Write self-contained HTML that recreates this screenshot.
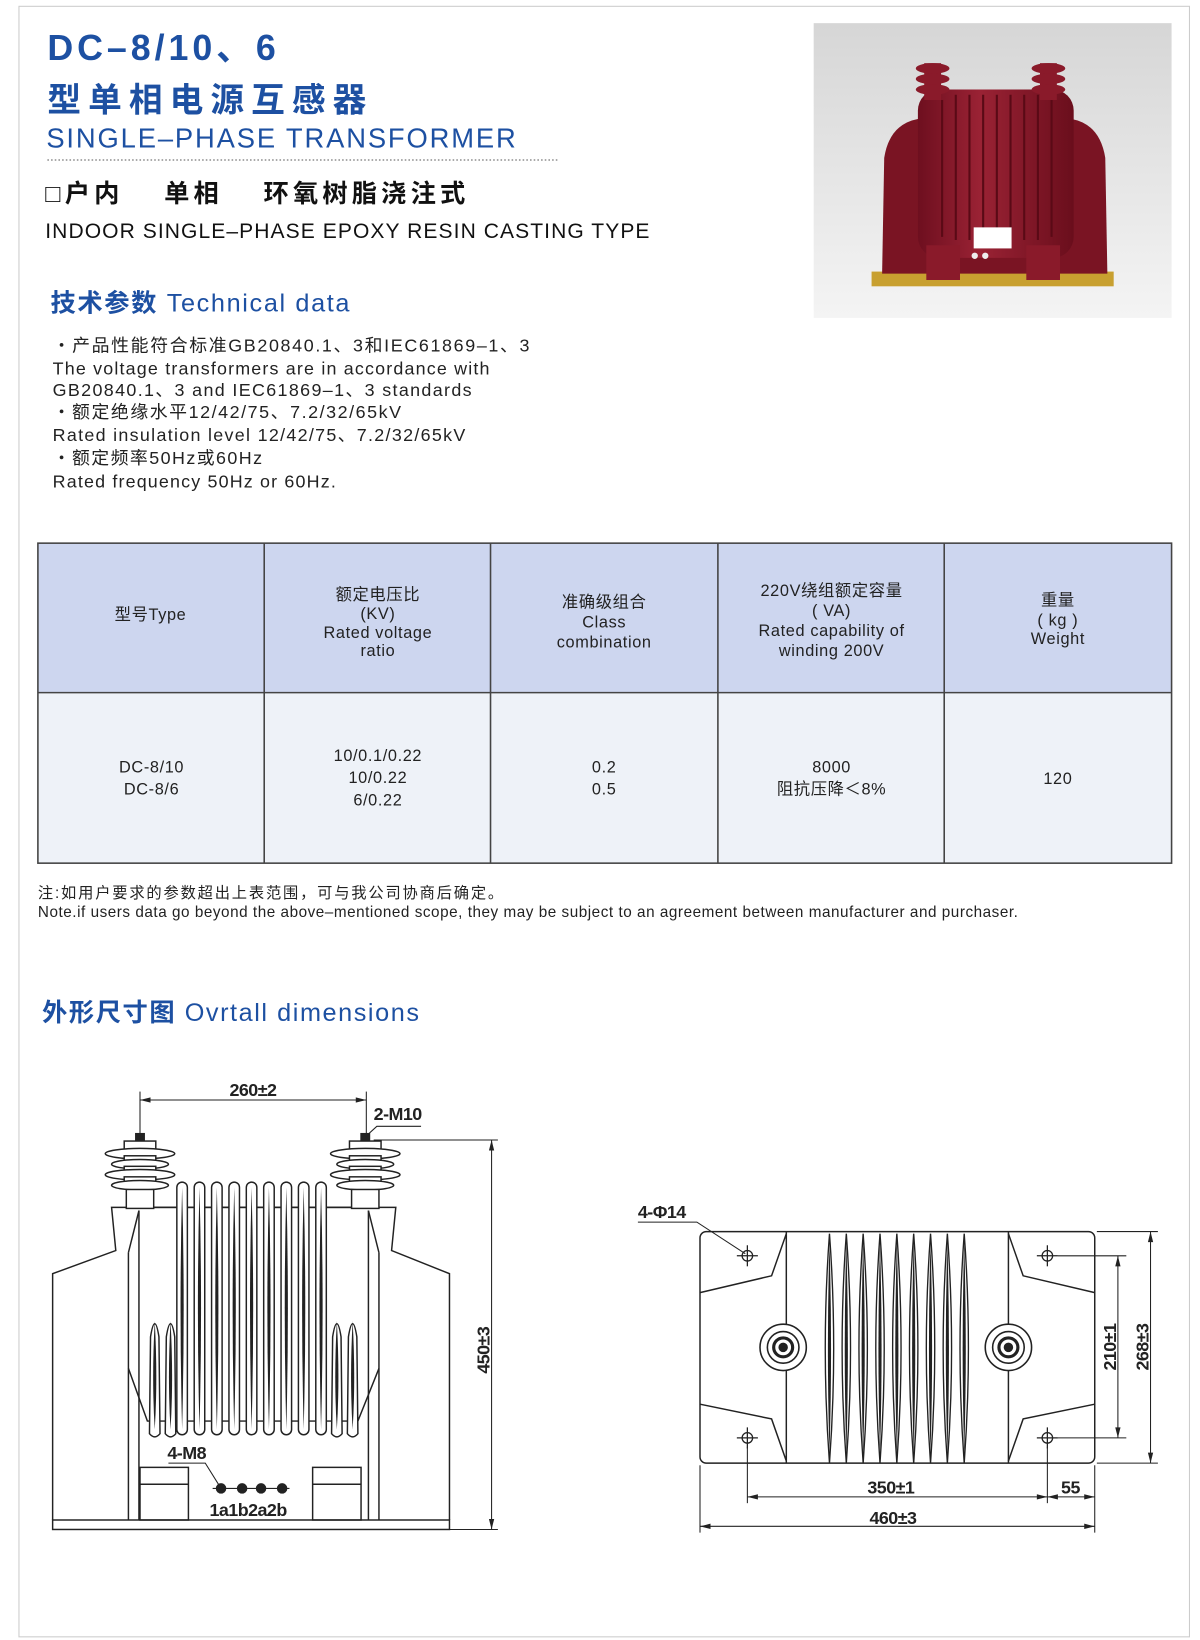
<!DOCTYPE html>
<html><head><meta charset="utf-8"><style>
html,body{margin:0;padding:0;background:#fff}
svg{display:block}
text{font-family:"Liberation Sans","Noto Sans CJK SC",sans-serif}
</style></head><body>
<svg width="1200" height="1640" viewBox="0 0 1140 1558" preserveAspectRatio="none" xmlns="http://www.w3.org/2000/svg">
<defs>
<linearGradient id="bg" x1="0" y1="0" x2="0" y2="1"><stop offset="0" stop-color="#d6d6d6"/><stop offset="1" stop-color="#f4f4f4"/></linearGradient>
<linearGradient id="red" x1="0" y1="0" x2="1" y2="0"><stop offset="0" stop-color="#6e0f1f"/><stop offset="0.4" stop-color="#9a2234"/><stop offset="1" stop-color="#6a0e1c"/></linearGradient>
<g id="fin"><rect x="-5" y="0" width="10" height="240" rx="5" fill="#fff" stroke="#222" stroke-width="1.4"/><path d="M0,5 Q-3,120 0,235 Q3,120 0,5Z" fill="#222"/></g>
<g id="sfin"><path d="M-5,112 L-4,20 Q0,-5 4,20 L5,112 Q0,118 -5,112Z" fill="#fff" stroke="#222" stroke-width="1.4"/><path d="M0,5 Q-3,60 0,108 Q3,60 0,5Z" fill="#222"/></g>
<g id="rfin"><path d="M0,0 Q-8,109 0,218 Q8,109 0,0Z" fill="#fff" stroke="#222" stroke-width="1.3"/><path d="M0,8 Q-3,109 0,210 Q3,109 0,8Z" fill="#222"/></g>
<g id="ins" fill="#fff" stroke="#222" stroke-width="1.4"><rect x="-4" y="-7" width="8" height="7" fill="#222"/><rect x="-15" y="0" width="30" height="12"/><ellipse cx="0" cy="12" rx="33" ry="5"/><rect x="-15" y="14" width="30" height="6"/><ellipse cx="0" cy="22" rx="27" ry="4.5"/><rect x="-15" y="24" width="30" height="6"/><ellipse cx="0" cy="32" rx="33" ry="5"/><rect x="-15" y="34" width="30" height="6"/><ellipse cx="0" cy="42" rx="27" ry="4.5"/><rect x="-13" y="46" width="26" height="18"/></g>
<g id="hole" stroke="#222" stroke-width="1.2" fill="none"><circle r="5"/><line x1="-10" y1="0" x2="10" y2="0"/><line x1="0" y1="-10" x2="0" y2="10"/></g>
<g id="bush" stroke="#222" fill="none"><circle r="22" stroke-width="1.5" fill="#fff"/><circle r="15" stroke-width="1.5"/><circle r="9" stroke-width="3"/><circle r="4" fill="#222"/></g>
</defs>
<rect x="18" y="6" width="1112" height="1549" fill="none" stroke="#ccc" stroke-width="1"/>
<!-- titles -->
<text x="45" y="57" font-size="34" font-weight="bold" fill="#1d50a2" textLength="217" lengthAdjust="spacing">DC–8/10、6</text>
<text x="45" y="106" font-size="32" font-weight="bold" fill="#1d50a2" textLength="303" lengthAdjust="spacing">型单相电源互感器</text>
<text x="44" y="140" font-size="26" fill="#1d50a2" textLength="446" lengthAdjust="spacing">SINGLE–PHASE TRANSFORMER</text>
<line x1="45" y1="152" x2="530" y2="152" stroke="#555" stroke-width="1" stroke-dasharray="1.5,2"/>
<text x="43" y="192" font-size="24" font-weight="bold" fill="#111" textLength="399" lengthAdjust="spacing">□户内　 单相 　环氧树脂浇注式</text>
<text x="43" y="226" font-size="20" fill="#111" textLength="574" lengthAdjust="spacing">INDOOR  SINGLE–PHASE EPOXY RESIN CASTING TYPE</text>
<text x="48" y="296" font-size="24" fill="#1d50a2" textLength="284" lengthAdjust="spacing"><tspan font-weight="bold">技术参数</tspan> Technical data</text>
<g font-size="17" fill="#222" lengthAdjust="spacing">
<text x="50" y="334" textLength="453">・产品性能符合标准GB20840.1、3和IEC61869–1、3</text>
<text x="50" y="356" textLength="415">The voltage transformers are in accordance with</text>
<text x="50" y="376" textLength="398">GB20840.1、3 and IEC61869–1、3 standards</text>
<text x="50" y="397" textLength="331">・额定绝缘水平12/42/75、7.2/32/65kV</text>
<text x="50" y="419" textLength="392">Rated insulation level 12/42/75、7.2/32/65kV</text>
<text x="50" y="441" textLength="199">・额定频率50Hz或60Hz</text>
<text x="50" y="463" textLength="269">Rated frequency 50Hz or 60Hz.</text>
</g>
<!-- photo -->
<rect x="773" y="22" width="340" height="280" fill="url(#bg)"/>
<rect x="828" y="258" width="230" height="14" fill="#c8a030"/>
<path d="M838,260 L840,150 Q845,118 872,113 L1018,113 Q1045,118 1050,150 L1052,260Z" fill="#7a1423"/>
<rect x="872" y="85" width="148" height="160" rx="20" fill="url(#red)"/>
<g stroke="#5a0a16" stroke-width="2"><line x1="895" y1="95" x2="895" y2="225"/><line x1="908" y1="90" x2="908" y2="228"/><line x1="921" y1="90" x2="921" y2="228"/><line x1="934" y1="90" x2="934" y2="228"/><line x1="947" y1="90" x2="947" y2="228"/><line x1="960" y1="90" x2="960" y2="228"/><line x1="973" y1="90" x2="973" y2="228"/><line x1="986" y1="90" x2="986" y2="228"/><line x1="999" y1="95" x2="999" y2="225"/></g>
<g fill="#8a1a2a"><rect x="878" y="60" width="16" height="35"/><ellipse cx="886" cy="65" rx="16" ry="5"/><ellipse cx="886" cy="75" rx="16" ry="5"/><ellipse cx="886" cy="85" rx="16" ry="5"/><rect x="988" y="60" width="16" height="35"/><ellipse cx="996" cy="65" rx="16" ry="5"/><ellipse cx="996" cy="75" rx="16" ry="5"/><ellipse cx="996" cy="85" rx="16" ry="5"/></g>
<rect x="925" y="216" width="36" height="20" fill="#fff"/>
<rect x="880" y="233" width="32" height="33" fill="#8a1a2a"/><rect x="975" y="233" width="32" height="33" fill="#8a1a2a"/>
<circle cx="926" cy="243" r="3" fill="#eee"/><circle cx="936" cy="243" r="3" fill="#eee"/>
<!-- table -->
<rect x="36" y="516" width="1077" height="142" fill="#cdd6ef"/>
<rect x="36" y="658" width="1077" height="162" fill="#eef2f8"/>
<g stroke="#444" stroke-width="1.5" fill="none"><rect x="36" y="516" width="1077" height="304"/><line x1="36" y1="658" x2="1113" y2="658"/><line x1="251" y1="516" x2="251" y2="820"/><line x1="466" y1="516" x2="466" y2="820"/><line x1="682" y1="516" x2="682" y2="820"/><line x1="897" y1="516" x2="897" y2="820"/></g>
<g font-size="15.5" fill="#222" text-anchor="middle" letter-spacing="0.6">
<text x="143" y="589">型号Type</text>
<text x="359" y="570">额定电压比</text><text x="359" y="588">(KV)</text><text x="359" y="606">Rated voltage</text><text x="359" y="623">ratio</text>
<text x="574" y="577">准确级组合</text><text x="574" y="596">Class</text><text x="574" y="615">combination</text>
<text x="790" y="566">220V绕组额定容量</text><text x="790" y="585">( VA)</text><text x="790" y="604">Rated capability of</text><text x="790" y="623">winding 200V</text>
<text x="1005" y="575">重量</text><text x="1005" y="594">( kg )</text><text x="1005" y="612">Weight</text>
<text x="144" y="734">DC-8/10</text><text x="144" y="755">DC-8/6</text>
<text x="359" y="723">10/0.1/0.22</text><text x="359" y="744">10/0.22</text><text x="359" y="765">6/0.22</text>
<text x="574" y="734">0.2</text><text x="574" y="755">0.5</text>
<text x="790" y="734">8000</text><text x="790" y="755">阻抗压降＜8%</text>
<text x="1005" y="745">120</text>
</g>
<text x="36" y="853" font-size="14.5" fill="#222" textLength="442" lengthAdjust="spacing">注:如用户要求的参数超出上表范围，可与我公司协商后确定。</text>
<text x="36" y="871" font-size="14.5" fill="#222" textLength="931" lengthAdjust="spacing">Note.if users data go beyond the above–mentioned scope, they may be subject to an agreement between manufacturer and purchaser.</text>
<text x="40" y="970" font-size="24" fill="#1d50a2" textLength="358" lengthAdjust="spacing"><tspan font-weight="bold">外形尺寸图</tspan> Ovrtall dimensions</text>
<!-- left drawing -->
<g stroke="#222" stroke-width="1.4" fill="none">
<path d="M50,1444 L50,1210 L110,1188 L106,1147 L350,1147"/>
<path d="M427,1444 L427,1210 L372,1188 L376,1147 L130,1147"/>
<line x1="122" y1="1190" x2="122" y2="1444"/><line x1="132" y1="1150" x2="132" y2="1444"/>
<line x1="360" y1="1190" x2="360" y2="1444"/><line x1="350" y1="1150" x2="350" y2="1444"/>
<line x1="132" y1="1150" x2="122" y2="1190"/><line x1="350" y1="1150" x2="360" y2="1190"/>
<path d="M122,1300 L140,1350 L340,1350 L360,1300"/>
<rect x="50" y="1444" width="377" height="9"/>
<rect x="133" y="1394" width="46" height="50"/><line x1="133" y1="1410" x2="179" y2="1410"/>
<rect x="297" y="1394" width="46" height="50"/><line x1="297" y1="1410" x2="343" y2="1410"/>
</g>
<use href="#ins" x="133" y="1084"/><use href="#ins" x="347" y="1084"/>
<use href="#fin" x="173" y="1123"/><use href="#fin" x="189.5" y="1123"/><use href="#fin" x="206" y="1123"/><use href="#fin" x="222.5" y="1123"/><use href="#fin" x="239" y="1123"/><use href="#fin" x="255.5" y="1123"/><use href="#fin" x="272" y="1123"/><use href="#fin" x="288.5" y="1123"/><use href="#fin" x="305" y="1123"/>
<use href="#sfin" x="147" y="1250"/><use href="#sfin" x="162" y="1250"/><use href="#sfin" x="320" y="1250"/><use href="#sfin" x="335" y="1250"/>
<g fill="#222"><circle cx="210" cy="1414" r="5"/><circle cx="230" cy="1414" r="5"/><circle cx="248" cy="1414" r="5"/><circle cx="268" cy="1414" r="5"/></g>
<g stroke="#222" stroke-width="1" fill="none">
<line x1="202" y1="1414" x2="275" y2="1414"/>
<path d="M160,1390 L195,1390 L210,1414"/>
<line x1="133" y1="1037" x2="133" y2="1077"/><line x1="348" y1="1037" x2="348" y2="1077"/>
<line x1="133" y1="1045" x2="348" y2="1045"/>
<path d="M347,1080 L358,1070 L400,1070"/>
<line x1="355" y1="1083" x2="473" y2="1083"/><line x1="427" y1="1453" x2="473" y2="1453"/>
<line x1="467" y1="1083" x2="467" y2="1453"/>
</g>
<g fill="#222"><path d="M133,1045 l10,-2.5 v5z"/><path d="M348,1045 l-10,-2.5 v5z"/><path d="M467,1083 l-2.5,10 h5z"/><path d="M467,1453 l-2.5,-10 h5z"/></g>
<g font-size="17" fill="#222" font-weight="bold" letter-spacing="-0.5">
<text x="218" y="1041">260±2</text>
<text x="355" y="1064">2-M10</text>
<text x="159" y="1386">4-M8</text>
<text x="199" y="1440">1a1b2a2b</text>
<text transform="translate(465,1305) rotate(-90)">450±3</text>
</g>
<!-- right drawing -->
<g stroke="#222" stroke-width="1.4" fill="none">
<rect x="665" y="1170" width="375" height="220" rx="6" fill="#fff"/>
<line x1="747" y1="1170" x2="747" y2="1390"/><line x1="958" y1="1170" x2="958" y2="1390"/>
<path d="M665,1228 L733,1212 L747,1172"/><path d="M665,1334 L733,1348 L747,1388"/>
<path d="M1040,1228 L972,1212 L958,1172"/><path d="M1040,1334 L972,1348 L958,1388"/>
</g>
<use href="#rfin" x="788" y="1172"/><use href="#rfin" x="804" y="1172"/><use href="#rfin" x="820" y="1172"/><use href="#rfin" x="836" y="1172"/><use href="#rfin" x="852" y="1172"/><use href="#rfin" x="868" y="1172"/><use href="#rfin" x="884" y="1172"/><use href="#rfin" x="900" y="1172"/><use href="#rfin" x="916" y="1172"/>
<use href="#bush" x="744" y="1280"/><use href="#bush" x="958" y="1280"/>
<use href="#hole" x="710" y="1193"/><use href="#hole" x="710" y="1366"/><use href="#hole" x="995" y="1193"/><use href="#hole" x="995" y="1366"/>
<g stroke="#222" stroke-width="1" fill="none">
<path d="M606,1161 L662,1161 L708,1191"/>
<line x1="710" y1="1375" x2="710" y2="1428"/><line x1="995" y1="1375" x2="995" y2="1428"/><line x1="1040" y1="1392" x2="1040" y2="1456"/><line x1="665" y1="1392" x2="665" y2="1456"/>
<line x1="710" y1="1422" x2="1040" y2="1422"/><line x1="665" y1="1450" x2="1040" y2="1450"/>
<line x1="1005" y1="1193" x2="1070" y2="1193"/><line x1="1005" y1="1366" x2="1070" y2="1366"/>
<line x1="1042" y1="1170" x2="1100" y2="1170"/><line x1="1042" y1="1390" x2="1100" y2="1390"/>
<line x1="1062" y1="1193" x2="1062" y2="1366"/><line x1="1093" y1="1170" x2="1093" y2="1390"/>
</g>
<g fill="#222"><path d="M710,1422 l10,-2.5 v5z"/><path d="M995,1422 l-10,-2.5 v5z"/><path d="M995,1422 l10,-2.5 v5z"/><path d="M1040,1422 l-10,-2.5 v5z"/><path d="M665,1450 l10,-2.5 v5z"/><path d="M1040,1450 l-10,-2.5 v5z"/>
<path d="M1062,1193 l-2.5,10 h5z"/><path d="M1062,1366 l-2.5,-10 h5z"/><path d="M1093,1170 l-2.5,10 h5z"/><path d="M1093,1390 l-2.5,-10 h5z"/></g>
<g font-size="17" fill="#222" font-weight="bold" letter-spacing="-0.5">
<text x="606" y="1157">4-Φ14</text>
<text x="824" y="1419">350±1</text>
<text x="1008" y="1419">55</text>
<text x="826" y="1448">460±3</text>
<text transform="translate(1060,1302) rotate(-90)">210±1</text>
<text transform="translate(1091,1302) rotate(-90)">268±3</text>
</g>
</svg>
</body></html>
